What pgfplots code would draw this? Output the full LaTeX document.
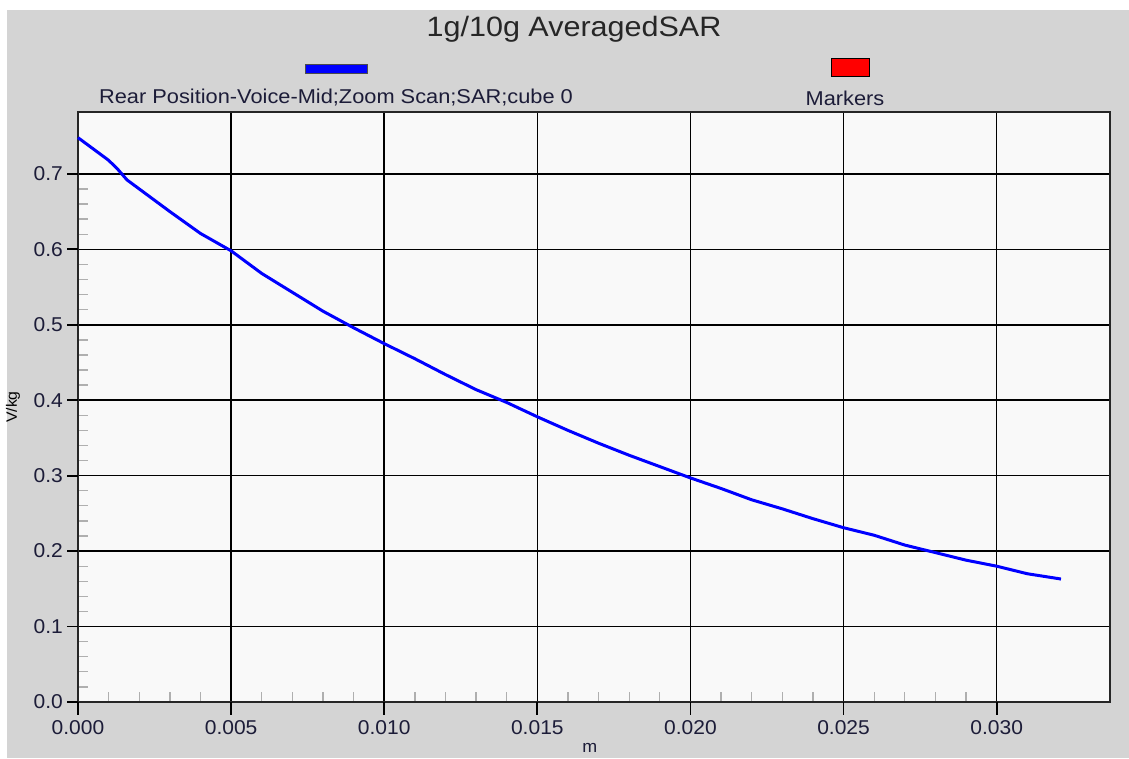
\documentclass[border=0pt]{standalone}
\usepackage{fontspec}
\setmainfont{Liberation Sans}[FakeStretch=1.05]
\newfontfamily\legfont{Liberation Sans}[FakeStretch=1.09]
\usepackage{pgfplots}
\pgfplotsset{compat=1.18}
\definecolor{outergray}{RGB}{212,212,212}
\definecolor{plotbg}{RGB}{249,249,249}
\definecolor{labtxt}{RGB}{28,28,56}
\definecolor{minorgray}{RGB}{175,175,175}
\begin{document}
\begin{tikzpicture}[x=1pt,y=1pt]
\useasboundingbox (-78,-56) rectangle (1051,702);
\fill[white] (-78,-56) rectangle (1051,702);
\fill[outergray] (-71,-56) rectangle (1051,692);
% title and legend
\node[font=\legfont\fontsize{28}{30}\selectfont, text=black!85] at (496,673) {1g/10g AveragedSAR};
\filldraw[fill=blue, draw=black!70, line width=0.8pt] (227,629) rectangle (289,638);
\filldraw[fill=red, draw=black, line width=0.8pt] (753,626) rectangle (791,644);
\node[font=\legfont\fontsize{20}{22}\selectfont, text=labtxt] at (258,604) {Rear Position-Voice-Mid;Zoom Scan;SAR;cube 0};
\node[font=\legfont\fontsize{20}{22}\selectfont, text=labtxt] at (767,604) {Markers};
\begin{axis}[
  at={(0,0)}, anchor=south west,
  scale only axis, width=1032pt, height=590pt,
  xmin=0, xmax=0.0337, ymin=0, ymax=0.782,
  axis background/.style={fill=plotbg},
  axis line style={black!85, line width=2pt},
  xtick={0,0.005,0.010,0.015,0.020,0.025,0.030},
  ytick={0,0.1,0.2,0.3,0.4,0.5,0.6,0.7},
  minor x tick num=4, minor y tick num=4,
  xtick pos=bottom, ytick pos=left,
  tick align=inside,
  major tick length=0pt, minor tick length=10pt,
  minor tick style={minorgray, line width=1.3pt},
  grid=major,
  major grid style={black, line width=1.6pt},
  scaled x ticks=false, scaled y ticks=false,
  xticklabel style={/pgf/number format/fixed, /pgf/number format/fixed zerofill, /pgf/number format/precision=3, /pgf/number format/assume math mode=true, anchor=north, yshift=-18pt},
  yticklabel style={/pgf/number format/fixed, /pgf/number format/fixed zerofill, /pgf/number format/precision=1, /pgf/number format/assume math mode=true, anchor=east, xshift=-15pt},
  ticklabel style={font=\fontsize{20}{22}\selectfont, text=labtxt, inner sep=0pt},
  xlabel={m}, ylabel={V/kg},
  xlabel style={font=\fontsize{17}{18}\selectfont, text=labtxt, at={(axis description cs:0.496,0)}, anchor=north, yshift=-41pt, inner sep=0pt},
  ylabel style={font=\fontsize{15}{16}\selectfont, text=black, at={(axis description cs:-0.063,0.5)}, anchor=center, inner sep=0pt},
  clip=false,
]
\addplot[blue, line width=3pt] coordinates {
(0,0.748) (0.001,0.718) (0.0013,0.706) (0.0016,0.692) (0.002,0.680)
(0.003,0.650) (0.004,0.621) (0.005,0.598) (0.006,0.568) (0.007,0.543)
(0.008,0.518) (0.009,0.496) (0.010,0.475) (0.011,0.455) (0.012,0.434)
(0.013,0.414) (0.014,0.397) (0.015,0.378) (0.016,0.360) (0.017,0.343)
(0.018,0.327) (0.019,0.312) (0.020,0.297) (0.021,0.283) (0.022,0.268)
(0.023,0.256) (0.024,0.243) (0.025,0.231) (0.026,0.221) (0.027,0.208)
(0.028,0.198) (0.029,0.188) (0.030,0.180) (0.031,0.170) (0.0321,0.163)
};
% outward stubs of the major ticks
\pgfplotsinvokeforeach{0,0.005,0.010,0.015,0.020,0.025,0.030}{
  \draw[black, line width=1.8pt] (axis cs:#1,0) -- ++(0pt,-13pt);
}
\pgfplotsinvokeforeach{0,0.1,0.2,0.3,0.4,0.5,0.6,0.7}{
  \draw[black, line width=1.8pt] (axis cs:0,#1) -- ++(-11pt,0pt);
}
\end{axis}
\end{tikzpicture}
\end{document}
